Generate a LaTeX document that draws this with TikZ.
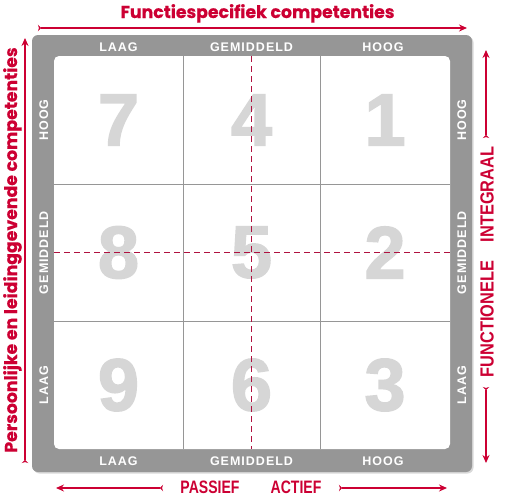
\documentclass[tikz,border=0pt]{standalone}
\usepackage{fontspec}
\setmainfont{Liberation Sans}
\newfontfamily\titlefont[BoldFeatures={FakeBold=0.5}]{Poppins}
\newfontfamily\narrowfont[FakeStretch=0.78]{Liberation Sans}
\newfontfamily\widenarrowfont[FakeStretch=0.86]{Liberation Sans}
\newfontfamily\bandfont[LetterSpace=8]{Liberation Sans}
\newfontfamily\digitfont[BoldFeatures={FakeBold=2}]{Liberation Sans}
\usetikzlibrary{arrows.meta,positioning,shadows}
\definecolor{axisred}{RGB}{204,0,51}
\definecolor{dashred}{RGB}{176,16,63}
\definecolor{bandgray}{RGB}{150,150,150}
\definecolor{gridgray}{RGB}{150,150,150}
\definecolor{digitgray}{RGB}{214,214,214}
\tikzset{
  bandlbl/.style={font=\bandfont\bfseries\fontsize{12.5}{12.5}\selectfont,
    text=white, inner sep=0pt, anchor=base},
  digit/.style={font=\digitfont\bfseries\fontsize{74}{74}\selectfont,
    text=digitgray, inner sep=0pt},
  axislbl/.style={font=\titlefont\bfseries\fontsize{17.3}{17.3}\selectfont,
    text=axisred, inner sep=0pt, anchor=base},
  polelbl/.style={font=\narrowfont\bfseries\fontsize{18}{18}\selectfont,
    text=axisred, inner sep=0pt, anchor=base},
  redarr/.style={{Stealth[reversed,length=3pt,width=6.5pt]}-{Stealth[length=8pt,width=7pt]},
    line width=1.6pt, draw=axisred},
  gridline/.style={draw=gridgray, line width=0.8pt},
  midline/.style={draw=dashred, dash pattern=on 6pt off 4pt, line width=0.8pt}
}
\begin{document}
\begin{tikzpicture}[x=1pt,y=-1pt]
\useasboundingbox (0,0) rectangle (510,498);

%% Frame and grid
\fill[bandgray, rounded corners=6pt,
  drop shadow={opacity=0.3, shadow xshift=1.5pt, shadow yshift=-1.5pt}]
  (32,35) rectangle (472,472);
\fill[white, rounded corners=5pt] (54,56) rectangle (450,449);
\draw[gridline] (183.5,56) -- (183.5,449);
\draw[gridline] (320,56) -- (320,449);
\draw[gridline] (54,184) -- (450,184);
\draw[gridline] (54,321.5) -- (450,321.5);

%% Cell numbers
\foreach \c/\x in {0/118.5,1/251.5,2/385}
  \foreach \r/\y in {0/120,1/252.5,2/385}
    \pgfmathtruncatemacro{\num}{3*(2-\c)+1+\r}
    \node[digit] (d\c\r) at (\x,\y) {\num};

\draw[midline] (251,56) -- (251,449);
\draw[midline] (54,252.5) -- (450,252.5);

%% Band labels
\foreach \x/\t [count=\i] in {118.5/LAAG,251.5/GEMIDDELD,383/HOOG}{
  \node[bandlbl] (top\i) at (\x,51) {\t};
  \node[bandlbl] (bot\i) at (\x,465.5) {\t};
}
\foreach \y/\t [count=\i] in {120/HOOG,252.5/GEMIDDELD,385/LAAG}{
  \node[bandlbl, rotate=90] (lft\i) at (48,\y) {\t};
  \node[bandlbl, rotate=90] (rgt\i) at (466,\y) {\t};
}

%% Axis titles
\node[axislbl] (functie) at (257.5,18) {Functiespecifiek competenties};
\node[axislbl, rotate=90] (persoon) at (17,250) {Persoonlijke en leidinggevende competenties};
\node[polelbl, font=\widenarrowfont\bfseries\fontsize{19}{19}\selectfont, rotate=90]
  (integr) at (493.5,262) {FUNCTIONELE\enspace\enspace INTEGRAAL};
\node[polelbl] (passief) at (210,493) {PASSIEF};
\node[polelbl] (actief) at (296,493) {ACTIEF};

%% Axis arrows
\coordinate (tl) at (38,28);   \coordinate (tr) at (467,28);
\coordinate (lb) at (25,463);  \coordinate (lt) at (25,38);
\coordinate (ra) at (486,138); \coordinate (rb) at (486,50);
\coordinate (rc) at (486,387); \coordinate (rd) at (486,463);
\coordinate (pa) at (163,488); \coordinate (pb) at (56,488);
\coordinate (aa) at (339,488); \coordinate (ab) at (447,488);
\draw[redarr] (tl) -- (tr);
\draw[redarr] (lb) -- (lt);
\draw[redarr] (ra) -- (rb);
\draw[redarr] (rc) -- (rd);
\draw[redarr] (pa) -- (pb);
\draw[redarr] (aa) -- (ab);

\end{tikzpicture}
\end{document}
